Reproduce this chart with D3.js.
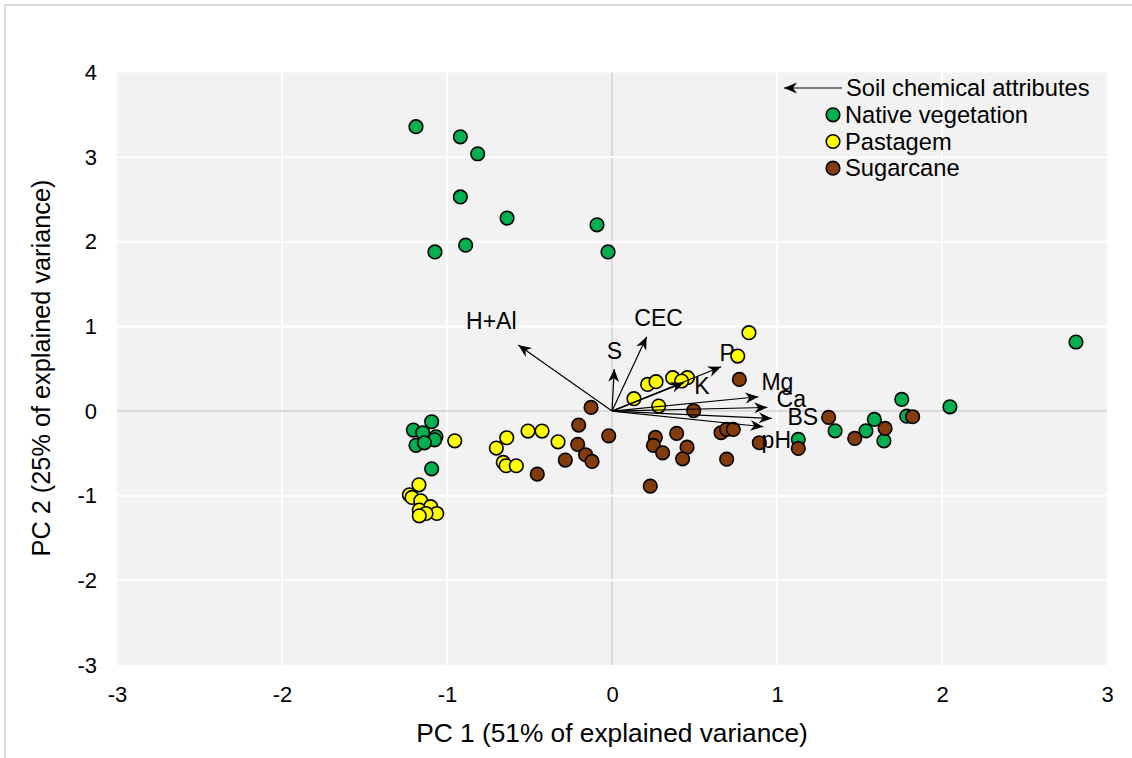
<!DOCTYPE html>
<html><head><meta charset="utf-8">
<script src="https://cdn.jsdelivr.net/npm/d3@7"></script>
<style>body{margin:0;background:#fff}svg{display:block}text{font-family:"Liberation Sans",Arial,sans-serif;fill:#000}</style>
</head><body>
<svg id="c" width="1132" height="758"></svg>
<script>
// ---- data ----
const xTicks = [-3,-2,-1,0,1,2,3];
const yTicks = [-3,-2,-1,0,1,2,3,4];
const seriesNames = ["Native vegetation","Pastagem","Sugarcane"];
const nativeVeg = [
 [-1.188,3.36],[-0.919,3.24],[-0.814,3.04],[-0.919,2.53],[-0.636,2.28],[-0.091,2.20],[-0.024,1.88],[-1.073,1.88],[-0.887,1.96],
 [2.812,0.816],[2.048,0.05],[1.756,0.138],[1.786,-0.06],[1.352,-0.233],[1.539,-0.233],[1.590,-0.099],[1.648,-0.351],[1.129,-0.335],
 [-1.093,-0.126],[-1.204,-0.225],[-1.147,-0.256],[-1.067,-0.304],[-1.075,-0.34],[-1.188,-0.405],[-1.137,-0.375],[-1.093,-0.682]
];
const pastagem = [
 [0.830,0.926],[0.762,0.650],[0.216,0.315],[0.267,0.347],[0.368,0.394],[0.457,0.394],[0.422,0.355],[0.133,0.146],[0.283,0.059],
 [-0.953,-0.351],[-0.638,-0.315],[-0.701,-0.437],[-0.509,-0.236],[-0.424,-0.236],[-0.327,-0.363],[-0.659,-0.607],[-0.642,-0.646],[-0.580,-0.646],
 [-1.170,-0.871],[-1.228,-0.99],[-1.212,-1.02],[-1.159,-1.06],[-1.099,-1.13],[-1.168,-1.17],[-1.062,-1.21],[-1.127,-1.21],[-1.168,-1.238]
];
const sugarcane = [
 [-0.127,0.043],[0.772,0.374],[0.495,0.004],[-0.202,-0.166],[-0.02,-0.292],[-0.208,-0.394],[-0.16,-0.516],[-0.121,-0.595],[-0.283,-0.579],
 [-0.453,-0.745],[0.263,-0.311],[0.251,-0.406],[0.307,-0.493],[0.392,-0.264],[0.455,-0.426],[0.428,-0.564],[0.232,-0.887],[0.661,-0.256],
 [0.695,-0.217],[0.735,-0.217],[0.695,-0.568],[0.893,-0.374],[1.313,-0.075],[1.129,-0.441],[1.822,-0.067],[1.471,-0.323],[1.655,-0.205]
];
const loadingNames = ["H+Al","S","CEC","P","K","Mg","Ca","BS","pH"];
const loadingX = [-0.568,0.014,0.21,0.661,0.436,0.887,0.941,0.968,0.917];
const loadingY = [0.78,0.497,0.879,0.524,0.335,0.169,0.043,-0.087,-0.185];
const xTitle = "PC 1 (51% of explained variance)";
const yTitle = "PC 2 (25% of explained variance)";
const arrowLegend = "Soil chemical attributes";

// ---- drawing ----
const svg = d3.select("#c");
const colors = ["#00b050","#ffff00","#843c0c"];
const L=117, R=1107, T=72.5, B=665;
const x = d3.scaleLinear().domain([-3,3]).range([L,R]);
const y = d3.scaleLinear().domain([-3,4]).range([B,T]);

svg.append("rect").attr("x",5).attr("y",5).attr("width",1140).attr("height",770)
  .attr("fill","#fff").attr("stroke","#d9d9d9").attr("stroke-width",2);
svg.append("rect").attr("x",L).attr("y",T).attr("width",R-L).attr("height",B-T).attr("fill","#f2f2f2");

const defs = svg.append("defs");
defs.append("marker").attr("id","ah").attr("viewBox","-14 -7 16 14").attr("markerWidth",16).attr("markerHeight",14)
  .attr("refX",0).attr("refY",0).attr("orient","auto").attr("markerUnits","userSpaceOnUse")
  .append("path").attr("d","M0,0 L-13,-5.5 L-9,0 L-13,5.5 Z").attr("fill","#000");

const g = svg.append("g");
// grid
g.selectAll(".vg").data(xTicks.filter(d=>d>-3&&d<3)).join("line")
  .attr("x1",d=>x(d)).attr("x2",d=>x(d)).attr("y1",T).attr("y2",B)
  .attr("stroke",d=>d===0?"#d9d9d9":"#fff").attr("stroke-width",2);
g.selectAll(".hg").data(yTicks.filter(d=>d>-3&&d<4)).join("line")
  .attr("y1",d=>y(d)).attr("y2",d=>y(d)).attr("x1",L).attr("x2",R)
  .attr("stroke",d=>d===0?"#d9d9d9":"#fff").attr("stroke-width",2);

// axes labels via d3 axes
const fmt = d => String(d);
const xa = svg.append("g").attr("transform",`translate(0,${B})`)
  .call(d3.axisBottom(x).tickValues(xTicks).tickSize(0).tickPadding(21).tickFormat(fmt));
xa.select(".domain").remove();
xa.selectAll("text").attr("font-size",22).style("font-family","Liberation Sans, Arial");
const ya = svg.append("g").attr("transform",`translate(${L},0)`)
  .call(d3.axisLeft(y).tickValues(yTicks).tickSize(0).tickPadding(20).tickFormat(fmt));
ya.select(".domain").remove();
ya.selectAll("text").attr("font-size",22).style("font-family","Liberation Sans, Arial");

svg.append("text").attr("x",612).attr("y",742).attr("text-anchor","middle").attr("font-size",26.3).text(xTitle);
svg.append("text").attr("transform","translate(50,368) rotate(-90)").attr("text-anchor","middle").attr("font-size",25.3).text(yTitle);

// points
[nativeVeg,pastagem,sugarcane].forEach((s,i)=>{
  g.append("g").selectAll("circle").data(s).join("circle")
    .attr("cx",d=>x(d[0])).attr("cy",d=>y(d[1])).attr("r",6.8)
    .attr("fill",colors[i]).attr("stroke","#000").attr("stroke-width",1.6);
});

// loadings
const labelOff = {"H+Al":[-27,-24],"S":[0,-18],"CEC":[12,-19],"P":[6,-14],"K":[18,3],"Mg":[19,-15],"Ca":[24,-8],"BS":[31,-1],"pH":[13,13]};
loadingNames.forEach((n,i)=>{
  g.append("line").attr("x1",x(0)).attr("y1",y(0)).attr("x2",x(loadingX[i])).attr("y2",y(loadingY[i]))
    .attr("stroke","#000").attr("stroke-width",1.2).attr("marker-end","url(#ah)");
});
loadingNames.forEach((n,i)=>{
  const o=labelOff[n];
  g.append("text").attr("x",x(loadingX[i])+o[0]).attr("y",y(loadingY[i])+o[1]).attr("dy","0.35em")
    .attr("text-anchor","middle").attr("font-size",23).text(n);
});

// legend
const lg = svg.append("g");
lg.append("line").attr("x1",842).attr("x2",784).attr("y1",88).attr("y2",88)
  .attr("stroke","#000").attr("stroke-width",1.2).attr("marker-end","url(#ah)");
lg.append("text").attr("x",846).attr("y",88).attr("dy","0.35em").attr("font-size",23.7).text(arrowLegend);
seriesNames.forEach((n,i)=>{
  const cy = 114.8 + i*26.7;
  lg.append("circle").attr("cx",833).attr("cy",cy).attr("r",6.8).attr("fill",colors[i]).attr("stroke","#000").attr("stroke-width",1.6);
  lg.append("text").attr("x",845).attr("y",cy).attr("dy","0.35em").attr("font-size",23.7).text(n);
});
</script>
</body></html>
